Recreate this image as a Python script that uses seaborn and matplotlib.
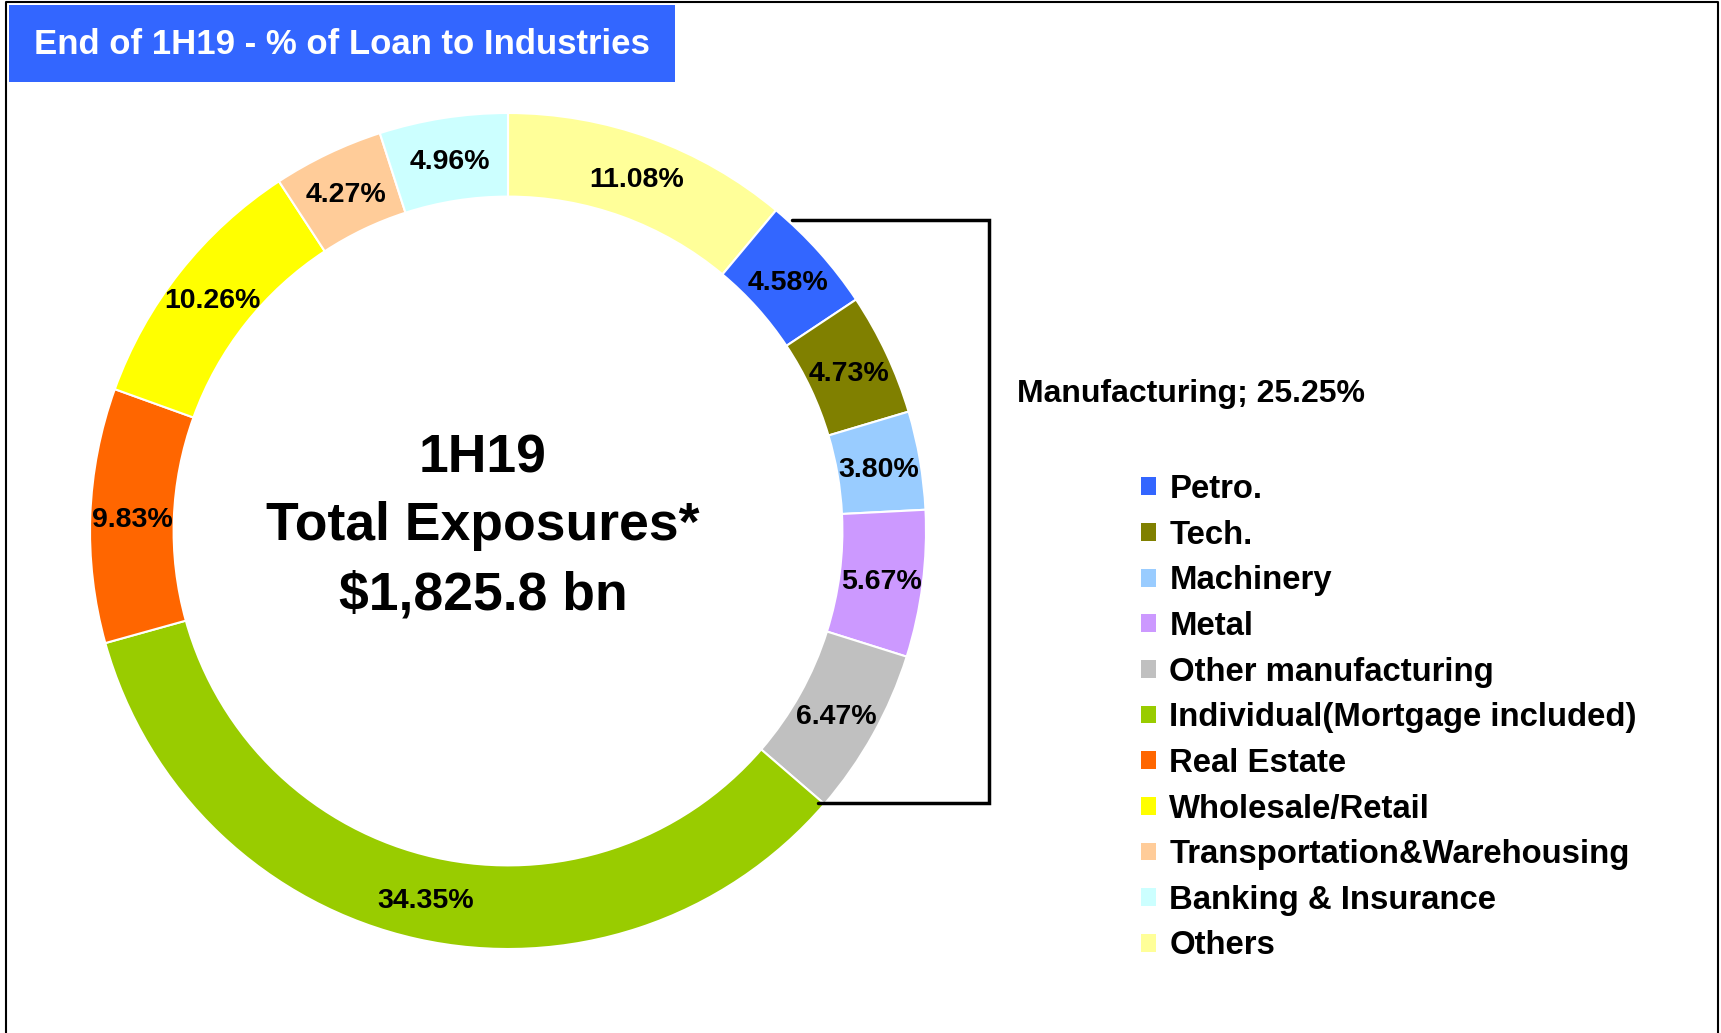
import matplotlib
matplotlib.use("Agg")
import matplotlib.pyplot as plt
from matplotlib.patches import Rectangle, Patch
from matplotlib.lines import Line2D
import seaborn as sns

# ---- data (pie order: clockwise from 12 o'clock) ----
categories = ["Others", "Petro.", "Tech.", "Machinery", "Metal", "Other manufacturing",
              "Individual(Mortgage included)", "Real Estate", "Wholesale/Retail",
              "Transportation&Warehousing", "Banking & Insurance"]
shares = [11.08, 4.58, 4.73, 3.80, 5.67, 6.47, 34.35, 9.83, 10.26, 4.27, 4.96]
colors = ["#FFFF99", "#3366FF", "#808000", "#99CCFF", "#CC99FF", "#C0C0C0",
          "#99CC00", "#FF6600", "#FFFF00", "#FFCC99", "#CCFFFF"]
legend_order = ["Petro.", "Tech.", "Machinery", "Metal", "Other manufacturing",
                "Individual(Mortgage included)", "Real Estate", "Wholesale/Retail",
                "Transportation&Warehousing", "Banking & Insurance", "Others"]
title = "End of 1H19 - % of Loan to Industries"
center_lines = ["1H19", "Total Exposures*", "$1,825.8 bn"]
group_label = "Manufacturing; 25.25%"

sns.set_theme(style="white")
plt.rcParams["font.family"] = ["Liberation Sans", "DejaVu Sans"]
plt.rcParams["font.weight"] = "bold"
plt.rcParams["text.color"] = "black"

W, H = 1721, 1033
fig = plt.figure(figsize=(W / 100, H / 100), dpi=100)
fig.patch.set_facecolor("white")

# donut axes: center (508,531) px, outer radius 418 px
cx, cy, R = 508, 531, 418
ax = fig.add_axes([(cx - R) / W, (H - cy - R) / H, 2 * R / W, 2 * R / H])

wedges, _, autotexts = ax.pie(
    shares, colors=colors, startangle=90, counterclock=False, radius=1.0,
    autopct="%.2f%%", pctdistance=0.9,
    wedgeprops=dict(width=0.2, edgecolor="white", linewidth=1.5),
    textprops=dict(fontsize=20.5, fontweight="bold", color="black"))
for t in autotexts:
    t.set_va("center_baseline")
ax.set_xlim(-1, 1)
ax.set_ylim(-1, 1)
ax.set_aspect("equal")
ax.axis("off")

# center text
for txt, yy in zip(center_lines, [0.141, -0.022, -0.187]):
    ax.text(-0.06, yy, txt, ha="center", va="baseline", fontsize=38.5,
            fontweight="bold", color="black")

# manufacturing bracket
bx = 1.151
ax.plot([0.679, bx, bx, 0.742], [0.744, 0.744, -0.651, -0.651],
        color="black", lw=2.5, clip_on=False, solid_joinstyle="miter")
fig.text(1017 / W, 1 - 394 / H, group_label, ha="left", va="center",
         fontsize=23, fontweight="bold", color="black")

# legend
color_map = dict(zip(categories, colors))
handles = [Patch(facecolor=color_map[c], edgecolor="none") for c in legend_order]
fig.legend(handles, legend_order, loc="upper left",
           bbox_to_anchor=(1141 / W, 1 - 474 / H), frameon=False,
           prop=dict(size=23.7, weight="bold"), handlelength=0.46, handleheight=0.46,
           handletextpad=0.4, labelspacing=0.445, borderpad=0, borderaxespad=0,
           labelcolor="black")

# title box
fig.add_artist(Rectangle((9 / W, 1 - 82 / H), 666 / W, 77 / H,
                         transform=fig.transFigure, facecolor="#3366FF",
                         edgecolor="none"))
fig.text(342 / W, 1 - 44 / H, title, ha="center", va="center", fontsize=25,
         fontweight="bold", color="white")

# outer border (left, top, right)
fig.add_artist(Line2D([6 / W, 6 / W, 1718 / W, 1718 / W], [0, 1 - 2 / H, 1 - 2 / H, 0],
                      transform=fig.transFigure, color="black", lw=1.5))

fig.savefig("out.png", dpi=100, facecolor="white")
